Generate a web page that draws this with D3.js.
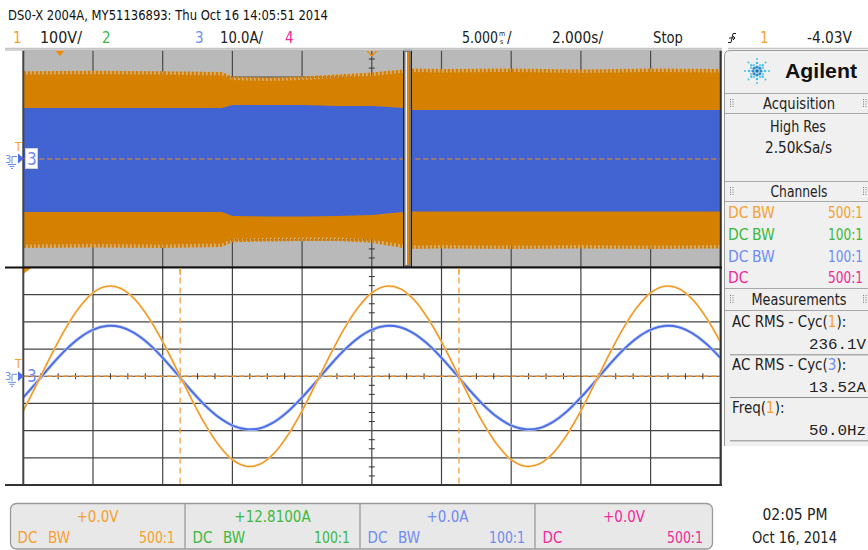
<!DOCTYPE html>
<html><head><meta charset="utf-8">
<script src="https://cdn.jsdelivr.net/npm/d3@7"></script>
<style>body{margin:0;background:#fff}svg{display:block}</style>
</head><body><svg id="c" width="868" height="550"></svg>
<script>
// ---------------- DATA ----------------
// zoomed (lower) window: 5 ms/div, samples every 1 ms
const timeMs = [0,1,2,3,4,5,6,7,8,9,10,11,12,13,14,15,16,17,18,19,20,21,22,23,24,25,26,27,28,29,30,31,32,33,34,35,36,37,38,39,40,41,42,43,44,45,46,47,48,49,50];
const ch1Volts = [-127,-26,77,173,252,307,331,323,283,215,127,26,-77,-173,-252,-307,-331,-323,-283,-215,
                  -127,-26,77,173,252,307,331,323,283,215,127,26,-77,-173,-252,-307,-331,-323,-283,-215,
                  -127,-26,77,173,252,307,331,323,283,215,127];
const ch3Amps = [-7.8,-2.0,4.0,9.5,14.0,17.1,18.5,18.1,15.8,11.9,6.8,1.0,-5.0,-10.5,-15.0,-18.1,-19.5,-19.1,-16.8,-12.9,
                 -7.8,-2.0,4.0,9.5,14.0,17.1,18.5,18.1,15.8,11.9,6.8,1.0,-5.0,-10.5,-15.0,-18.1,-19.5,-19.1,-16.8,-12.9,
                 -7.8,-2.0,4.0,9.5,14.0,17.1,18.5,18.1,15.8,11.9,6.8];
const cursorMs = [11.25, 31.25];
// main (upper) window: 2 s/div, envelope of the 50 Hz signals
const envTimeS = [-10,-8,-6,-4.3,-4.0,-3,-2,-1,0,0.5,0.9,1.1,2,4,6,8,10];
const ch1Max = [309,311,309,306,289,286,289,297,304,311,315,319,317,319,315,319,317];
const ch1Min = [-317,-315,-317,-313,-296,-293,-291,-291,-298,-309,-317,-321,-319,-321,-319,-321,-319];
const ch3Max = [18.6,18.6,18.6,18.6,19.7,19.7,19.7,19.4,19.4,19.0,18.6,17.9,17.9,17.9,17.9,17.9,17.9];
const ch3Min = [-19.7,-19.7,-19.7,-19.7,-21.2,-21.4,-21.4,-21.2,-20.8,-20.2,-19.7,-19.5,-19.5,-19.5,-19.5,-19.5,-19.5];
const zoomCenterS = 1.025;
// texts
const titleText = "DS0-X 2004A, MY51136893: Thu Oct 16 14:05:51 2014";
const chanColors = ["#f5a030","#3cb93c","#6f8cf0","#ef2a9a"];
const chanScale = ["100V/","","10.0A/",""];
const chanProbe = [["DC","BW","500:1"],["DC","BW","100:1"],["DC","BW","100:1"],["DC","","500:1"]];
const chanOffset = ["+0.0V","+12.8100A","+0.0A","+0.0V"];
const measNames = [["AC RMS - Cyc(","1","):"],["AC RMS - Cyc(","3","):"],["Freq(","1","):"]];
const measColors = [0,2,0];
const measValues = ["236.1V","13.52A","50.0Hz"];

// ---------------- SETUP ----------------
const NARROW = "'Liberation Sans Narrow','DejaVu Sans Condensed','Arial Narrow',sans-serif";
const MONO = "'Liberation Mono','DejaVu Sans Mono',monospace";
const svg = d3.select('#c');
const X0 = 23.3, X1 = 720.3;
const xZ = d3.scaleLinear().domain([-10,10]).range([X0,X1]);
const yZV = d3.scaleLinear().domain([-400,400]).range([267,50]);
const yZA = d3.scaleLinear().domain([-40,40]).range([267,50]);
const xM = d3.scaleLinear().domain([0,50]).range([X0,X1]);
const yMV = d3.scaleLinear().domain([-400,400]).range([485,267.5]);
const yMA = d3.scaleLinear().domain([-40,40]).range([485,267.5]);

const defs = svg.append('defs');
const pat = defs.append('pattern').attr('id','fringe').attr('patternUnits','userSpaceOnUse')
  .attr('width',4).attr('height',10);
pat.append('rect').attr('x',0).attr('y',0).attr('width',2).attr('height',10).attr('fill','#d68000');
pat.append('rect').attr('x',2).attr('y',0).attr('width',1).attr('height',10).attr('fill','#dcab6a').attr('opacity',0.85);
pat.append('rect').attr('x',3).attr('y',0).attr('width',1).attr('height',10).attr('fill','#c98a3a').attr('opacity',0.35);
defs.append('clipPath').attr('id','clipTop').append('rect').attr('x',X0).attr('y',50).attr('width',X1-X0).attr('height',217);
defs.append('clipPath').attr('id','clipBot').append('rect').attr('x',X0).attr('y',267.5).attr('width',X1-X0).attr('height',217.5);

// ---------------- HEADER ----------------
svg.append('text').attr('x',8).attr('y',20).attr('font-family',NARROW).attr('font-size',14.5)
  .attr('fill','#111').attr('textLength',320).attr('lengthAdjust','spacingAndGlyphs').text(titleText);
const hdrX = [13,102,195,285];
hdrX.forEach((x,i)=>{
  svg.append('text').attr('x',x).attr('y',43).attr('font-family',NARROW).attr('font-size',15)
    .attr('fill',chanColors[i]).text(String(i+1));
});
svg.append('text').attr('x',40).attr('y',43).attr('font-family',NARROW).attr('font-size',15).attr('fill','#222')
  .attr('textLength',42).attr('lengthAdjust','spacingAndGlyphs').text(chanScale[0]);
svg.append('text').attr('x',220).attr('y',43).attr('font-family',NARROW).attr('font-size',15).attr('fill','#222')
  .attr('textLength',43).attr('lengthAdjust','spacingAndGlyphs').text(chanScale[2]);
svg.append('text').attr('x',462).attr('y',43).attr('font-family',NARROW).attr('font-size',15).attr('fill','#222')
  .attr('textLength',36).attr('lengthAdjust','spacingAndGlyphs').text("5.000");
svg.append('text').attr('x',499).attr('y',35.5).attr('font-family',NARROW).attr('font-size',7).attr('fill','#222').text("m");
svg.append('text').attr('x',500).attr('y',44).attr('font-family',NARROW).attr('font-size',7).attr('fill','#222').text("s");
svg.append('text').attr('x',507).attr('y',43).attr('font-family',NARROW).attr('font-size',15).attr('fill','#222').text("/");
svg.append('text').attr('x',552).attr('y',43).attr('font-family',NARROW).attr('font-size',15).attr('fill','#222')
  .attr('textLength',51).attr('lengthAdjust','spacingAndGlyphs').text("2.000s/");
svg.append('text').attr('x',653).attr('y',43).attr('font-family',NARROW).attr('font-size',15).attr('fill','#222')
  .attr('textLength',30).attr('lengthAdjust','spacingAndGlyphs').text("Stop");
svg.append('path').attr('d','M728,42.5 L731,42.5 L733,33.5 L736,33.5 M729,38 L735,38 M733,36 L735,38 L733,40')
  .attr('fill','none').attr('stroke','#222').attr('stroke-width',1);
svg.append('text').attr('x',760).attr('y',43).attr('font-family',NARROW).attr('font-size',15).attr('fill',chanColors[0]).text("1");
svg.append('text').attr('x',807).attr('y',43).attr('font-family',NARROW).attr('font-size',15).attr('fill','#222')
  .attr('textLength',45).attr('lengthAdjust','spacingAndGlyphs').text("-4.03V");
svg.append('line').attr('x1',5).attr('x2',722).attr('y1',48.5).attr('y2',48.5).attr('stroke','#c4c4c4').attr('stroke-width',1.5);
svg.append('line').attr('x1',728).attr('x2',868).attr('y1',48.5).attr('y2',48.5).attr('stroke','#c4c4c4').attr('stroke-width',1.5);

// ---------------- UPPER (MAIN) WINDOW ----------------
const gT = svg.append('g');
gT.append('rect').attr('x',X0).attr('y',50).attr('width',X1-X0).attr('height',217).attr('fill','#b9b9b9');
const gTc = gT.append('g').attr('clip-path','url(#clipTop)');
gTc.selectAll('.vg').data(xZ.ticks(10)).join('line').attr('x1',d=>xZ(d)).attr('x2',d=>xZ(d))
  .attr('y1',50).attr('y2',267).attr('stroke','#4a4a4a').attr('stroke-width',1.2);
gTc.selectAll('.hg').data(yZV.ticks(8)).join('line').attr('x1',X0).attr('x2',X1)
  .attr('y1',d=>yZV(d)).attr('y2',d=>yZV(d)).attr('stroke','#4a4a4a').attr('stroke-width',1.2);
const minorV = d3.range(-400,400.1,100/3).filter(v=>Math.abs(v/100-Math.round(v/100))>0.01);
gTc.selectAll('.mt').data(minorV).join('line').attr('x1',xZ(0)-3).attr('x2',xZ(0)+3)
  .attr('y1',d=>yZV(d)).attr('y2',d=>yZV(d)).attr('stroke','#333');
const env = envTimeS.map((t,i)=>({t,mx:ch1Max[i],mn:ch1Min[i],amx:ch3Max[i],amn:ch3Min[i]}));
gTc.append('path').datum(env).attr('fill','url(#fringe)')
  .attr('d',d3.area().x(d=>xZ(d.t)).y0(d=>yZV(d.mx)+1).y1(d=>yZV(d.mx)-3.5));
gTc.append('path').datum(env).attr('fill','url(#fringe)')
  .attr('d',d3.area().x(d=>xZ(d.t)).y0(d=>yZV(d.mn)-1).y1(d=>yZV(d.mn)+3.5));
gTc.append('path').datum(env).attr('fill','#d68000')
  .attr('d',d3.area().x(d=>xZ(d.t)).y0(d=>yZV(d.mn)).y1(d=>yZV(d.mx)));
gTc.append('path').datum(env).attr('fill','#4263d2')
  .attr('d',d3.area().x(d=>xZ(d.t)).y0(d=>yZA(d.amn)).y1(d=>yZA(d.amx)));
gTc.append('line').attr('x1',X0).attr('x2',X1).attr('y1',yZV(0)+0.5).attr('y2',yZV(0)+0.5)
  .attr('stroke','#f08a1a').attr('stroke-width',1.2).attr('stroke-dasharray','5,3');
// zoom window indicator
const zx = xZ(zoomCenterS);
gT.append('rect').attr('x',zx-4).attr('y',50).attr('width',8).attr('height',217).attr('fill','#7a7a7a').attr('stroke','#222').attr('stroke-width',1);
gT.append('rect').attr('x',zx-2).attr('y',52).attr('width',1.5).attr('height',213).attr('fill','#f4f4f4');
gT.append('rect').attr('x',zx-0.2).attr('y',52).attr('width',1.7).attr('height',213).attr('fill','#e08a10');
// trigger / reference markers on upper window
gT.append('path').attr('d',`M${xZ(-8.95)-5},50 L${xZ(-8.95)+5},50 L${xZ(-8.95)},56 Z`).attr('fill','#f08a00');
gT.append('path').attr('d',`M${xZ(0)-5},50.5 L${xZ(0)+5},50.5 L${xZ(0)},56 Z`).attr('fill','none').attr('stroke','#f08a00').attr('stroke-width',1.2);

// ---------------- LOWER (ZOOM) WINDOW ----------------
const gB = svg.append('g');
gB.append('rect').attr('x',X0).attr('y',267.5).attr('width',X1-X0).attr('height',217.5).attr('fill','#ffffff');
const gBc = gB.append('g').attr('clip-path','url(#clipBot)');
gBc.selectAll('.vg').data(xM.ticks(10)).join('line').attr('x1',d=>xM(d)).attr('x2',d=>xM(d))
  .attr('y1',267.5).attr('y2',485).attr('stroke','#444').attr('stroke-width',1.2);
gBc.selectAll('.hg').data(yMV.ticks(8)).join('line').attr('x1',X0).attr('x2',X1)
  .attr('y1',d=>yMV(d)).attr('y2',d=>yMV(d)).attr('stroke','#444').attr('stroke-width',1.2);
const minorT = d3.range(0,50.01,1.25).filter(t=>t%5!==0);
gBc.selectAll('.mtx').data(minorT).join('line').attr('x1',d=>xM(d)).attr('x2',d=>xM(d))
  .attr('y1',yMV(0)-3).attr('y2',yMV(0)+3).attr('stroke','#333');
gBc.selectAll('.mty').data(minorV).join('line').attr('x1',xM(25)-3).attr('x2',xM(25)+3)
  .attr('y1',d=>yMV(d)).attr('y2',d=>yMV(d)).attr('stroke','#333');
gBc.append('line').attr('x1',X0).attr('x2',X1).attr('y1',yMV(0)).attr('y2',yMV(0))
  .attr('stroke','#f08a1a').attr('stroke-width',1.3).attr('stroke-dasharray','5,3');
gBc.selectAll('.cur').data(cursorMs).join('line').attr('x1',d=>xM(d)).attr('x2',d=>xM(d))
  .attr('y1',267.5).attr('y2',485).attr('stroke','#f5a040').attr('stroke-width',1.3).attr('stroke-dasharray','6,4');
const wave = timeMs.map((t,i)=>({t,v:ch1Volts[i],a:ch3Amps[i]}));
const lineV = d3.line().x(d=>xM(d.t)).y(d=>yMV(d.v)).curve(d3.curveCatmullRom);
const lineA = d3.line().x(d=>xM(d.t)).y(d=>yMA(d.a)).curve(d3.curveCatmullRom);
gBc.append('path').datum(wave).attr('d',lineA).attr('fill','none').attr('stroke','#b4c2f4').attr('stroke-width',3.2);
gBc.append('path').datum(wave).attr('d',lineA).attr('fill','none').attr('stroke','#4a6ee6').attr('stroke-width',1.8);
gBc.append('path').datum(wave).attr('d',lineV).attr('fill','none').attr('stroke','#f8cf95').attr('stroke-width',2.2);
gBc.append('path').datum(wave).attr('d',lineV).attr('fill','none').attr('stroke','#ef9010').attr('stroke-width',1.1);
gB.append('path').attr('d',`M${X0},268 L${X0+8},268 L${X0},274 Z`).attr('fill','#f08a00');

// frame lines
svg.append('line').attr('x1',X0).attr('x2',X0).attr('y1',50).attr('y2',485).attr('stroke','#444').attr('stroke-width',2);
svg.append('line').attr('x1',X1+0.5).attr('x2',X1+0.5).attr('y1',50).attr('y2',485).attr('stroke','#333').attr('stroke-width',2);
svg.append('line').attr('x1',5).attr('x2',722).attr('y1',267.5).attr('y2',267.5).attr('stroke','#111').attr('stroke-width',2.2);
svg.append('line').attr('x1',5).attr('x2',722).attr('y1',485).attr('y2',485).attr('stroke','#333').attr('stroke-width',2);
svg.append('line').attr('x1',5).attr('x2',722).attr('y1',50).attr('y2',50).attr('stroke','#c8c8c8').attr('stroke-width',1.5);
// cursor stubs above lower window
cursorMs.forEach(t=>svg.append('line').attr('x1',xM(t)).attr('x2',xM(t)).attr('y1',268).attr('y2',275).attr('stroke','#f5a040').attr('stroke-width',1.3));

// left channel markers
function leftMarker(yc, boxed){
  const g = svg.append('g');
  g.append('text').attr('x',15).attr('y',yc-8).attr('font-family',NARROW).attr('font-size',12).attr('fill','#f5a030').text('T');
  g.append('text').attr('x',5).attr('y',yc+4).attr('font-family',NARROW).attr('font-size',11).attr('fill','#6f8cf0').text('3');
  g.append('path').attr('d',`M12,${yc+5} L12,${yc-2} L17,${yc-2}`).attr('fill','none').attr('stroke','#6f8cf0').attr('stroke-width',1);
  g.append('path').attr('d',`M18,${yc-5} L24,${yc} L18,${yc+5} Z`).attr('fill','#4a6ee6');
  g.append('path').attr('d',`M8,${yc+6} L16,${yc+6} M9.5,${yc+8} L14.5,${yc+8} M11,${yc+10} L13,${yc+10}`).attr('stroke','#6f8cf0').attr('stroke-width',1);
  if(boxed) g.append('rect').attr('x',25.5).attr('y',yc-10).attr('width',12).attr('height',20).attr('fill','#fff').attr('stroke','#d0d0d0');
  g.append('text').attr('x',27).attr('y',yc+6).attr('font-family',NARROW).attr('font-size',17).attr('fill','#6f8cf0').text('3');
}
leftMarker(158.5, true);
leftMarker(376.3, false);

// ---------------- RIGHT PANEL ----------------
const rp = svg.append('g');
rp.append('path').attr('d','M724.5,446 L724.5,56 Q724.5,50.5 730,50.5 L870,50.5 L870,446')
  .attr('fill','#f0f0f0').attr('stroke','#9a9a9a').attr('stroke-width',1);
// logo
const spokes = d3.range(0,360,45);
const lg = rp.append('g').attr('transform','translate(757,71)');
spokes.forEach(a=>{
  [4,8,12].forEach((r,k)=>{
    const rad=a*Math.PI/180;
    lg.append('circle').attr('cx',r*Math.cos(rad)).attr('cy',r*Math.sin(rad)).attr('r',k===0?1.6:(k===1?1.3:1.0))
      .attr('fill',k===0?'#2f8fd0':'#45c0ea');
  });
});
[[6,3],[3,6],[-6,3],[-3,6],[6,-3],[3,-6],[-6,-3],[-3,-6]].forEach(p=>lg.append('circle').attr('cx',p[0]).attr('cy',p[1]).attr('r',0.9).attr('fill','#45c0ea'));
lg.append('circle').attr('r',1.8).attr('fill','#1c6fb8');
rp.append('text').attr('x',785).attr('y',78).attr('font-family',"'Liberation Sans','DejaVu Sans',sans-serif").attr('font-weight','bold')
  .attr('font-size',21).attr('fill','#111').attr('textLength',72).attr('lengthAdjust','spacingAndGlyphs').text('Agilent');
[93.5,113.5,181.5,201.5,288.5,310.5].forEach(y=>rp.append('line').attr('x1',725).attr('x2',868).attr('y1',y).attr('y2',y).attr('stroke','#a8a8a8'));
function grip(x,y){for(let i=0;i<2;i++)for(let j=0;j<4;j++)rp.append('rect').attr('x',x+i*2.5).attr('y',y+j*2.3).attr('width',1).attr('height',1).attr('fill','#777');}
[[730,99],[863,99],[730,187],[863,187],[730,295],[863,295]].forEach(p=>grip(p[0],p[1]));
const hdr = [["Acquisition",109,72],["Channels",197,57],["Measurements",305,95]];
hdr.forEach(h=>rp.append('text').attr('x',799).attr('y',h[1]).attr('text-anchor','middle').attr('font-family',NARROW)
  .attr('font-size',15.5).attr('fill','#222').attr('textLength',h[2]).attr('lengthAdjust','spacingAndGlyphs').text(h[0]));
rp.append('text').attr('x',798).attr('y',132).attr('text-anchor','middle').attr('font-family',NARROW).attr('font-size',15.5).attr('fill','#222')
  .attr('textLength',56).attr('lengthAdjust','spacingAndGlyphs').text('High Res');
rp.append('text').attr('x',798.5).attr('y',153).attr('text-anchor','middle').attr('font-family',NARROW).attr('font-size',15.5).attr('fill','#222')
  .attr('textLength',67).attr('lengthAdjust','spacingAndGlyphs').text('2.50kSa/s');
const chY = [218,240,261.7,283];
chanProbe.forEach((p,i)=>{
  rp.append('text').attr('x',728).attr('y',chY[i]).attr('font-family',NARROW).attr('font-size',15.5).attr('fill',chanColors[i]).text(p[0]);
  if(p[1]) rp.append('text').attr('x',752).attr('y',chY[i]).attr('font-family',NARROW).attr('font-size',15.5).attr('fill',chanColors[i]).text(p[1]);
  rp.append('text').attr('x',828).attr('y',chY[i]).attr('font-family',NARROW).attr('font-size',15.5).attr('fill',chanColors[i])
    .attr('textLength',35).attr('lengthAdjust','spacingAndGlyphs').text(p[2]);
});
const mY = [327.3,370,413.3];
measNames.forEach((m,i)=>{
  const t = rp.append('text').attr('x',732).attr('y',mY[i]).attr('font-family',NARROW).attr('font-size',15).attr('fill','#222');
  t.append('tspan').text(m[0]);
  t.append('tspan').attr('fill',chanColors[measColors[i]]).text(m[1]);
  t.append('tspan').text(m[2]);
  rp.append('text').attr('x',866).attr('y',mY[i]+22).attr('text-anchor','end').attr('font-family',MONO).attr('font-size',14.5)
    .attr('fill','#222').attr('textLength',57).attr('lengthAdjust','spacingAndGlyphs').text(measValues[i]);
  rp.append('line').attr('x1',730).attr('x2',868).attr('y1',mY[i]+27.5).attr('y2',mY[i]+27.5).attr('stroke','#8a8a8a');
});

// ---------------- BOTTOM CHANNEL BAR ----------------
const bb = svg.append('g');
bb.append('rect').attr('x',10.5).attr('y',503.5).attr('width',702).attr('height',45.5).attr('rx',6)
  .attr('fill','#e8e8e8').attr('stroke','#9a9a9a').attr('stroke-width',1.3);
const secX = [10,185,360,535,713];
[185,360,535].forEach(x=>bb.append('line').attr('x1',x).attr('x2',x).attr('y1',504).attr('y2',548.5).attr('stroke','#9a9a9a').attr('stroke-width',1.3));
chanOffset.forEach((o,i)=>{
  const x0 = secX[i], x1 = secX[i+1], c = chanColors[i];
  bb.append('text').attr('x',(x0+x1)/2).attr('y',521.7).attr('text-anchor','middle').attr('font-family',NARROW)
    .attr('font-size',15).attr('fill',c).text(o);
  const p = chanProbe[i];
  bb.append('text').attr('x',x0+7.5).attr('y',543.3).attr('font-family',NARROW).attr('font-size',15).attr('fill',c).text(p[0]);
  if(p[1]) bb.append('text').attr('x',x0+38).attr('y',543.3).attr('font-family',NARROW).attr('font-size',15).attr('fill',c).text(p[1]);
  bb.append('text').attr('x',x1-10).attr('y',543.3).attr('text-anchor','end').attr('font-family',NARROW).attr('font-size',15).attr('fill',c)
    .attr('textLength',36).attr('lengthAdjust','spacingAndGlyphs').text(p[2]);
});
svg.append('text').attr('x',795).attr('y',520).attr('text-anchor','middle').attr('font-family',NARROW).attr('font-size',15).attr('fill','#222')
  .attr('textLength',65).attr('lengthAdjust','spacingAndGlyphs').text('02:05 PM');
svg.append('text').attr('x',794.5).attr('y',543).attr('text-anchor','middle').attr('font-family',NARROW).attr('font-size',15).attr('fill','#222')
  .attr('textLength',85).attr('lengthAdjust','spacingAndGlyphs').text('Oct 16, 2014');
</script></body></html>
